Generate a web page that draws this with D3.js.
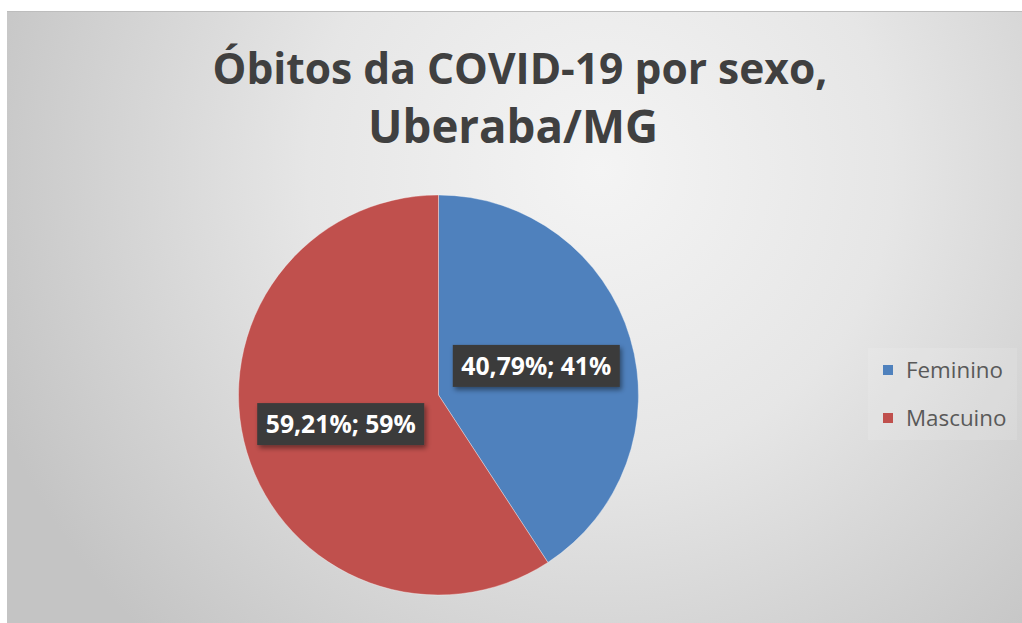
<!DOCTYPE html>
<meta charset="utf-8">
<style>
body { margin: 0; background: #fff; }
text { font-family: "Open Sans", "DejaVu Sans", sans-serif; }
</style>
<svg width="1022" height="623"></svg>
<script src="https://cdn.jsdelivr.net/npm/d3@7"></script>
<script>

var categories = ["Feminino", "Mascuino"],
    values = [40.79, 59.21],
    labels = ["40,79%; 41%", "59,21%; 59%"],
    colors = ["#4f81bd", "#c0504d"],
    titleLines = ["Óbitos da COVID-19 por sexo,", "Uberaba/MG"];

var svg = d3.select("svg"),
    defs = svg.append("defs");

// radial background like the Excel chart style
var grad = defs.append("radialGradient")
    .attr("id", "bg")
    .attr("gradientUnits", "userSpaceOnUse")
    .attr("cx", 600).attr("cy", 170).attr("r", 650);
grad.append("stop").attr("offset", "0%").attr("stop-color", "#f4f4f4");
grad.append("stop").attr("offset", "45%").attr("stop-color", "#e6e6e6");
grad.append("stop").attr("offset", "100%").attr("stop-color", "#c4c4c4");

var shadow = defs.append("filter").attr("id", "shadow")
    .attr("x", "-20%").attr("y", "-30%").attr("width", "150%").attr("height", "180%");
shadow.append("feDropShadow")
    .attr("dx", 2).attr("dy", 3).attr("stdDeviation", 2.5)
    .attr("flood-color", "#000").attr("flood-opacity", 0.45);

svg.append("rect")
    .attr("x", 7).attr("y", 11)
    .attr("width", 1015).attr("height", 612)
    .attr("fill", "url(#bg)");
svg.append("line")
    .attr("x1", 7).attr("x2", 1022).attr("y1", 11.5).attr("y2", 11.5)
    .attr("stroke", "#bdbdbd");

// fit a text element to a target width
function fit(sel, w) {
  var fs = parseFloat(sel.attr("font-size")),
      len = sel.node().getComputedTextLength();
  sel.attr("font-size", fs * w / len);
}

// title
var title = svg.append("g").attr("class", "title");
var t1 = title.append("text")
    .attr("x", 520).attr("y", 84)
    .attr("text-anchor", "middle")
    .attr("font-size", 40).attr("font-weight", "bold")
    .attr("fill", "#404040")
    .text(titleLines[0]);
fit(t1, 615);
var t2 = title.append("text")
    .attr("x", 513).attr("y", 143)
    .attr("text-anchor", "middle")
    .attr("font-size", 40).attr("font-weight", "bold")
    .attr("fill", "#404040")
    .text(titleLines[1]);
fit(t2, 290);

// pie
var cx = 438.5, cy = 395, r = 200;

var pie = d3.pie().sort(null).value(function(d) { return d; });
var arc = d3.arc().innerRadius(0).outerRadius(r);
var labelArc = d3.arc().innerRadius(r * 0.51).outerRadius(r * 0.51);

var g = svg.append("g").attr("transform", "translate(" + cx + "," + cy + ")");
var arcs = pie(values);

g.selectAll(".slice")
    .data(arcs)
  .enter().append("path")
    .attr("class", "slice")
    .attr("d", arc)
    .attr("fill", function(d, i) { return colors[i]; })
    .attr("stroke", "rgba(255,255,255,0.35)")
    .attr("stroke-width", 1);

var lab = g.selectAll(".label")
    .data(arcs)
  .enter().append("g")
    .attr("class", "label")
    .attr("transform", function(d) { return "translate(" + labelArc.centroid(d) + ")"; });

lab.append("rect")
    .attr("x", -83.5).attr("y", -21)
    .attr("width", 167).attr("height", 42)
    .attr("fill", "#3b3b3b")
    .attr("filter", "url(#shadow)");

lab.append("text")
    .attr("text-anchor", "middle")
    .attr("dy", "0.36em")
    .attr("font-size", 22).attr("font-weight", "bold")
    .attr("fill", "#fff")
    .text(function(d, i) { return labels[i]; })
    .each(function() { fit(d3.select(this), 150); });

// legend
var legend = svg.append("g").attr("transform", "translate(883,365)");
legend.append("rect")
    .attr("x", -15).attr("y", -17)
    .attr("width", 149).attr("height", 92)
    .attr("fill", "#fff").attr("opacity", 0.12);

var item = legend.selectAll(".item")
    .data(categories)
  .enter().append("g")
    .attr("class", "item")
    .attr("transform", function(d, i) { return "translate(0," + i * 48 + ")"; });

item.append("rect")
    .attr("width", 10).attr("height", 10)
    .attr("fill", function(d, i) { return colors[i]; });

var legText = item.append("text")
    .attr("x", 23).attr("y", 13)
    .attr("font-size", 18)
    .attr("fill", "#595959")
    .text(function(d) { return d; });
fit(d3.select(legText.node()), 97);
legText.attr("font-size", d3.select(legText.node()).attr("font-size"));

</script>
